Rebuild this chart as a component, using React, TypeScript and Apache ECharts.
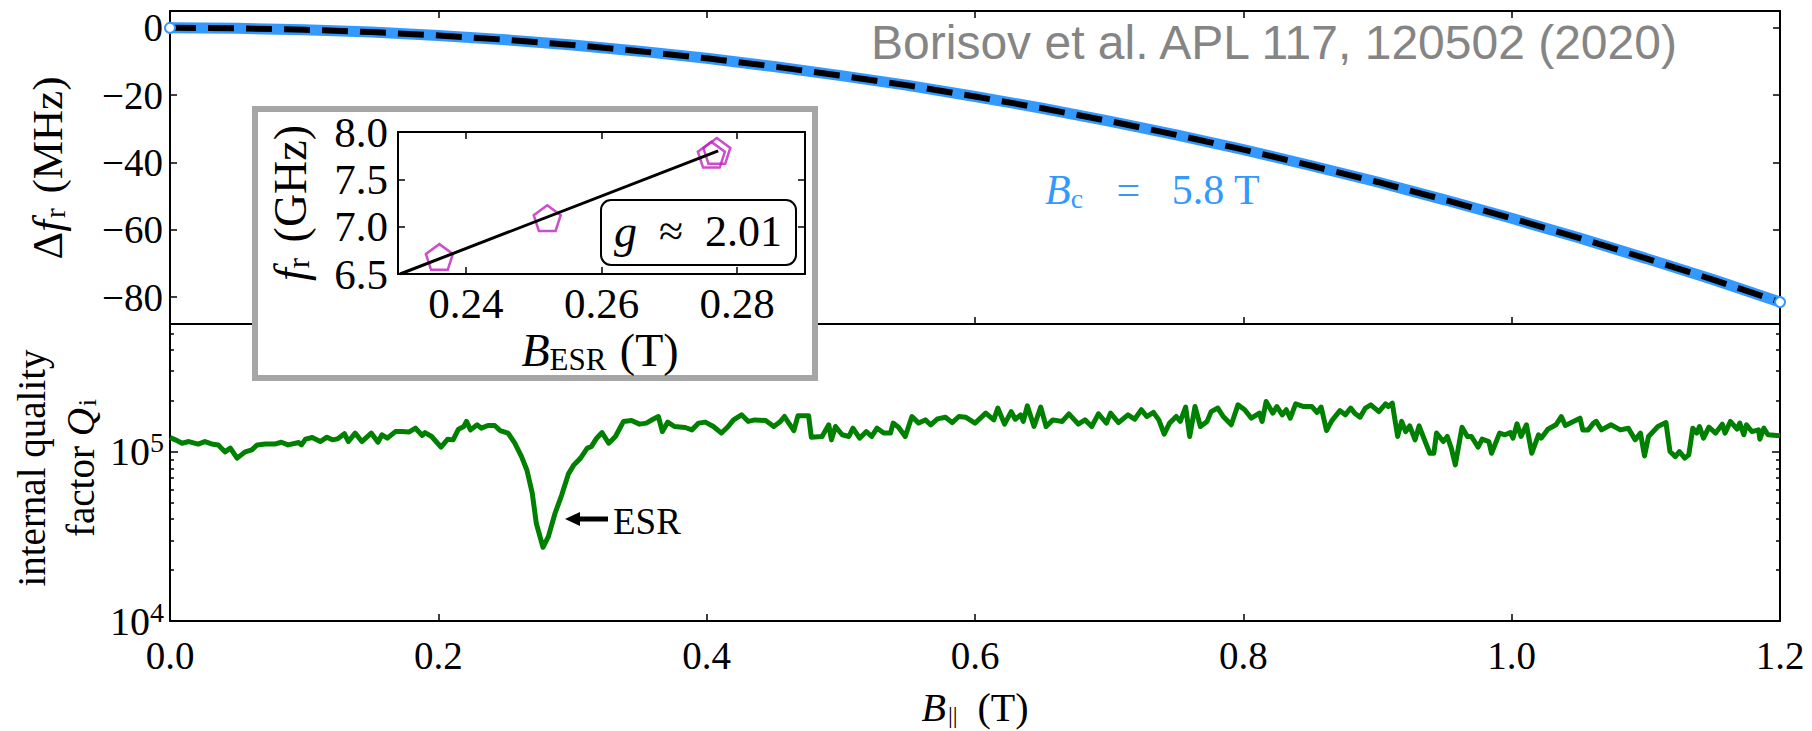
import React, { useEffect, useRef } from "react";
import * as echarts from "echarts";

// ---- Resonance shift vs in-plane field (top panel) ----
const fieldTop = [
  0, 0.05, 0.1, 0.15, 0.2, 0.25, 0.3, 0.35, 0.4, 0.45, 0.5, 0.55, 0.6,
  0.65, 0.7, 0.75, 0.8, 0.85, 0.9, 0.95, 1.0, 1.05, 1.1, 1.15, 1.2,
];
const deltaFrMeasured = [
  0, -0.14, -0.57, -1.27, -2.26, -3.54, -5.09, -6.93, -9.06, -11.5, -14.2,
  -17.1, -20.4, -23.9, -27.7, -31.8, -36.2, -40.9, -45.8, -51.1, -56.6,
  -62.4, -68.5, -74.8, -81.5,
];
const deltaFrFit = [
  0, -0.14, -0.57, -1.27, -2.26, -3.54, -5.09, -6.93, -9.06, -11.5, -14.2,
  -17.1, -20.4, -23.9, -27.7, -31.8, -36.2, -40.9, -45.8, -51.1, -56.6,
  -62.4, -68.5, -74.8, -81.5,
];
const topTicks = [0, -20, -40, -60, -80];

// ---- Internal quality factor vs field (bottom panel), stored as log10(Qi) ----
const qiField = [
  0.0, 0.004, 0.009, 0.014, 0.021, 0.026, 0.031, 0.036, 0.041, 0.045,
  0.05, 0.056, 0.061, 0.065, 0.071, 0.078, 0.083, 0.088, 0.096, 0.098,
  0.101, 0.106, 0.112, 0.117, 0.121, 0.125, 0.13, 0.133, 0.138, 0.143,
  0.15, 0.155, 0.158, 0.162, 0.168, 0.173, 0.178, 0.183, 0.188, 0.19,
  0.195, 0.202, 0.207, 0.211, 0.215, 0.219, 0.221, 0.224, 0.229, 0.232,
  0.237, 0.242, 0.246, 0.252, 0.257, 0.262, 0.266, 0.27, 0.273, 0.278,
  0.282, 0.287, 0.292, 0.297, 0.301, 0.306, 0.311, 0.314, 0.318, 0.322,
  0.327, 0.332, 0.338, 0.344, 0.35, 0.355, 0.36, 0.364, 0.367, 0.371,
  0.376, 0.384, 0.389, 0.394, 0.399, 0.405, 0.411, 0.416, 0.42, 0.426,
  0.431, 0.436, 0.444, 0.45, 0.455, 0.458, 0.465, 0.468, 0.476, 0.478,
  0.486, 0.491, 0.493, 0.496, 0.501, 0.506, 0.509, 0.514, 0.519, 0.523,
  0.527, 0.532, 0.537, 0.539, 0.543, 0.548, 0.553, 0.558, 0.563, 0.567,
  0.572, 0.578, 0.583, 0.588, 0.593, 0.6, 0.608, 0.614, 0.617, 0.622,
  0.627, 0.63, 0.634, 0.636, 0.639, 0.644, 0.649, 0.653, 0.658, 0.665,
  0.67, 0.677, 0.682, 0.687, 0.692, 0.698, 0.701, 0.707, 0.714, 0.719,
  0.724, 0.728, 0.733, 0.737, 0.741, 0.745, 0.75, 0.753, 0.757, 0.76,
  0.764, 0.768, 0.773, 0.776, 0.781, 0.785, 0.791, 0.796, 0.801, 0.806,
  0.812, 0.814, 0.817, 0.822, 0.825, 0.829, 0.832, 0.835, 0.839, 0.845,
  0.851, 0.855, 0.858, 0.862, 0.866, 0.872, 0.876, 0.88, 0.883, 0.887,
  0.891, 0.895, 0.901, 0.906, 0.908, 0.911, 0.915, 0.918, 0.921, 0.924,
  0.928, 0.931, 0.934, 0.939, 0.942, 0.944, 0.949, 0.952, 0.955, 0.958,
  0.963, 0.967, 0.97, 0.975, 0.978, 0.983, 0.985, 0.991, 0.995, 0.999,
  1.001, 1.004, 1.007, 1.011, 1.015, 1.02, 1.022, 1.027, 1.033, 1.037,
  1.04, 1.046, 1.051, 1.053, 1.057, 1.061, 1.063, 1.067, 1.074, 1.081,
  1.087, 1.092, 1.096, 1.099, 1.102, 1.109, 1.115, 1.118, 1.122, 1.125,
  1.129, 1.132, 1.135, 1.138, 1.14, 1.143, 1.147, 1.152, 1.157, 1.159,
  1.163, 1.168, 1.17, 1.173, 1.175, 1.179, 1.184, 1.185, 1.188, 1.191,
  1.2,
];
const qiLog10 = [
  5.085, 5.071, 5.051, 5.061, 5.046, 5.061, 5.047, 5.041, 5.0, 5.022,
  4.963, 5.0, 5.012, 5.041, 5.046, 5.046, 5.057, 5.041, 5.055, 5.041,
  5.075, 5.085, 5.061, 5.087, 5.071, 5.077, 5.107, 5.061, 5.111, 5.061,
  5.111, 5.057, 5.101, 5.081, 5.12, 5.12, 5.117, 5.14, 5.097, 5.114,
  5.091, 5.028, 5.075, 5.071, 5.134, 5.15, 5.18, 5.13, 5.16, 5.14,
  5.156, 5.156, 5.126, 5.111, 5.051, 4.972, 4.893, 4.756, 4.578, 4.436,
  4.499, 4.637, 4.746, 4.87, 4.923, 4.963, 5.022, 5.031, 5.081, 5.114,
  5.051, 5.091, 5.18, 5.185, 5.164, 5.17, 5.193, 5.209, 5.12, 5.176,
  5.15, 5.144, 5.13, 5.17, 5.176, 5.15, 5.111, 5.15, 5.189, 5.219,
  5.18, 5.189, 5.185, 5.15, 5.18, 5.209, 5.126, 5.213, 5.213, 5.087,
  5.091, 5.16, 5.071, 5.15, 5.101, 5.091, 5.14, 5.081, 5.12, 5.091,
  5.14, 5.111, 5.111, 5.17, 5.146, 5.091, 5.209, 5.17, 5.189, 5.16,
  5.195, 5.205, 5.173, 5.209, 5.205, 5.17, 5.229, 5.189, 5.259, 5.164,
  5.238, 5.193, 5.219, 5.18, 5.272, 5.15, 5.265, 5.15, 5.189, 5.18,
  5.225, 5.164, 5.189, 5.15, 5.225, 5.17, 5.229, 5.173, 5.219, 5.193,
  5.249, 5.209, 5.233, 5.189, 5.105, 5.17, 5.209, 5.18, 5.265, 5.091,
  5.268, 5.15, 5.18, 5.238, 5.259, 5.209, 5.16, 5.278, 5.249, 5.199,
  5.229, 5.18, 5.298, 5.229, 5.268, 5.219, 5.249, 5.199, 5.284, 5.268,
  5.268, 5.233, 5.265, 5.126, 5.185, 5.244, 5.219, 5.259, 5.229, 5.205,
  5.259, 5.278, 5.238, 5.284, 5.268, 5.288, 5.091, 5.18, 5.12, 5.154,
  5.071, 5.154, 5.091, 4.992, 4.992, 5.111, 5.061, 5.091, 5.022, 4.923,
  5.146, 5.091, 5.091, 5.028, 5.075, 5.061, 4.992, 5.111, 5.101, 5.114,
  5.081, 5.166, 5.091, 5.16, 4.992, 5.101, 5.081, 5.134, 5.16, 5.209,
  5.156, 5.18, 5.199, 5.13, 5.13, 5.17, 5.18, 5.13, 5.16, 5.13,
  5.14, 5.071, 5.111, 4.976, 5.091, 5.15, 5.173, 5.002, 4.972, 5.002,
  4.963, 4.982, 5.14, 5.111, 5.15, 5.081, 5.146, 5.111, 5.164, 5.111,
  5.18, 5.134, 5.17, 5.101, 5.16, 5.12, 5.13, 5.075, 5.14, 5.101,
  5.095,
];
const qiDecades = [4, 5];
const qiMinorValues = [2e4, 3e4, 4e4, 5e4, 6e4, 7e4, 8e4, 9e4, 2e5, 3e5, 4e5, 5e5];

// ---- Inset: ESR resonance frequency vs field ----
const esrField = [0.2361, 0.252, 0.2762, 0.277];
const esrFreq = [6.68, 7.09, 7.76, 7.8];
const esrFitField = [0.2303, 0.2772];
const esrFitFreq = [6.5, 7.8];
const insetXTicks = [0.24, 0.26, 0.28];

const SERIF = "Liberation Serif";
const SANS = "Liberation Sans";
const BLUE = "#3399ff";
const GREEN = "#008000";
const MAGENTA = "#c21fc2";
const PENTAGON =
  "path://M50,0 L97.55,34.55 L79.39,90.45 L20.61,90.45 L2.45,34.55 Z";

const zip = (xs: number[], ys: number[]) => xs.map((x, i) => [x, ys[i]]);

const axisLine = {
  show: true,
  onZero: false,
  lineStyle: { color: "#000", width: 2 },
};
const ticks = (length: number, customValues?: number[]) => ({
  show: true,
  inside: true,
  length,
  customValues,
  lineStyle: { color: "#000", width: 1.5 },
});
const noLabel = { show: false };
const noSplit = { show: false };

// Axis labels set in the serif face through a rich-text token.
const serifLabel = (
  fontSize: number,
  margin: number,
  fmt: (v: number) => string,
  customValues?: number[]
) => ({
  show: true,
  margin,
  customValues,
  formatter: (v: number) => `{t|${fmt(v)}}`,
  rich: { t: { fontFamily: SERIF, fontSize, color: "#000" } },
});

function buildOption(): any {
  const minorLog = qiMinorValues.map((v) => Math.log10(v));
  const measured = zip(fieldTop, deltaFrMeasured).map((p, i, arr) => ({
    value: p,
    symbol: i === 0 || i === arr.length - 1 ? "emptyCircle" : "none",
  }));

  return {
    animation: false,
    backgroundColor: "#fff",
    textStyle: { fontFamily: SERIF },
    grid: [
      { left: 170, top: 11, width: 1610, height: 313 },
      { left: 170, top: 324, width: 1610, height: 297 },
      { left: 398, top: 132, width: 407, height: 142 },
    ],
    xAxis: [
      {
        gridIndex: 0, type: "value", position: "bottom", min: 0, max: 1.2, interval: 0.2,
        axisLine, axisTick: ticks(7), axisLabel: noLabel, splitLine: noSplit,
      },
      {
        gridIndex: 0, type: "value", position: "top", min: 0, max: 1.2, interval: 0.2,
        axisLine, axisTick: ticks(7), axisLabel: noLabel, splitLine: noSplit,
      },
      {
        gridIndex: 1, type: "value", position: "bottom", min: 0, max: 1.2, interval: 0.2,
        axisLine, axisTick: ticks(7), splitLine: noSplit,
        axisLabel: serifLabel(39, 15, (v) => v.toFixed(1)),
      },
      {
        gridIndex: 1, type: "value", position: "top", min: 0, max: 1.2, interval: 0.2,
        axisLine, axisTick: { show: false }, axisLabel: noLabel, splitLine: noSplit,
      },
      {
        gridIndex: 2, type: "value", position: "bottom", min: 0.23, max: 0.29, z: 60,
        axisLine, axisTick: ticks(7, insetXTicks), splitLine: noSplit,
        axisLabel: serifLabel(43, 8, (v) => v.toFixed(2), insetXTicks),
      },
      {
        gridIndex: 2, type: "value", position: "top", min: 0.23, max: 0.29, z: 60,
        axisLine, axisTick: ticks(7, insetXTicks), axisLabel: noLabel, splitLine: noSplit,
      },
    ],
    yAxis: [
      {
        gridIndex: 0, type: "value", position: "left", min: -88, max: 5,
        axisLine, axisTick: ticks(7, topTicks), splitLine: noSplit,
        axisLabel: serifLabel(
          39, 7,
          (v) => (v < 0 ? "\u2212" + Math.abs(v) : String(v)),
          topTicks
        ),
      },
      {
        gridIndex: 0, type: "value", position: "right", min: -88, max: 5,
        axisLine, axisTick: ticks(7, topTicks), axisLabel: noLabel, splitLine: noSplit,
      },
      {
        gridIndex: 1, type: "value", position: "left", min: 4, max: 5.756,
        axisLine, axisTick: ticks(8, qiDecades), splitLine: noSplit,
        axisLabel: {
          show: true, customValues: qiDecades, margin: 6,
          formatter: (v: number) => `{b|10}{s|${Math.round(v)}}`,
          rich: {
            b: { fontFamily: SERIF, fontSize: 40, color: "#000" },
            s: { fontFamily: SERIF, fontSize: 28, color: "#000", padding: [0, 0, 18, 0] },
          },
        },
      },
      {
        gridIndex: 1, type: "value", position: "left", min: 4, max: 5.756,
        axisLine: { show: false, onZero: false }, axisTick: ticks(4, minorLog),
        axisLabel: noLabel, splitLine: noSplit,
      },
      {
        gridIndex: 1, type: "value", position: "right", min: 4, max: 5.756,
        axisLine, axisTick: ticks(8, qiDecades), axisLabel: noLabel, splitLine: noSplit,
      },
      {
        gridIndex: 1, type: "value", position: "right", min: 4, max: 5.756,
        axisLine: { show: false, onZero: false }, axisTick: ticks(4, minorLog),
        axisLabel: noLabel, splitLine: noSplit,
      },
      {
        gridIndex: 2, type: "value", position: "left", min: 6.5, max: 8.0, interval: 0.5, z: 60,
        axisLine, axisTick: ticks(7), splitLine: noSplit,
        axisLabel: serifLabel(43, 10, (v) => v.toFixed(1)),
      },
      {
        gridIndex: 2, type: "value", position: "right", min: 6.5, max: 8.0, interval: 0.5, z: 60,
        axisLine, axisTick: ticks(7), axisLabel: noLabel, splitLine: noSplit,
      },
    ],
    series: [
      {
        name: "measured", type: "line", xAxisIndex: 0, yAxisIndex: 0,
        data: measured, symbolSize: 10, showSymbol: true,
        itemStyle: { color: BLUE, borderWidth: 2 },
        lineStyle: { color: BLUE, width: 11 },
      },
      {
        name: "fit", type: "line", xAxisIndex: 0, yAxisIndex: 0,
        data: zip(fieldTop, deltaFrFit), symbol: "none",
        lineStyle: { color: "#000", width: 6, type: [26, 12], cap: "butt" },
      },
      {
        name: "Qi", type: "line", xAxisIndex: 2, yAxisIndex: 2,
        data: zip(qiField, qiLog10), symbol: "none",
        lineStyle: { color: GREEN, width: 5, join: "round" },
      },
      {
        name: "ESR", type: "scatter", xAxisIndex: 4, yAxisIndex: 6, z: 60,
        data: zip(esrField, esrFreq), symbol: PENTAGON, symbolSize: 27,
        symbolKeepAspect: true,
        itemStyle: { color: "rgba(0,0,0,0)", borderColor: MAGENTA, borderWidth: 2.5 },
      },
      {
        name: "ESR fit", type: "line", xAxisIndex: 4, yAxisIndex: 6, z: 61,
        data: zip(esrFitField, esrFitFreq), symbol: "none",
        lineStyle: { color: "#000", width: 3 },
      },
    ],
    graphic: {
      elements: [
        // inset frame
        {
          type: "rect", z: 50,
          shape: { x: 255, y: 109, width: 560, height: 269 },
          style: { fill: "#fff", stroke: "#a6a6a6", lineWidth: 6 },
        },
        // g-factor box
        {
          type: "rect", z: 70,
          shape: { x: 601, y: 200, width: 195, height: 65, r: 10 },
          style: { fill: "#fff", stroke: "#000", lineWidth: 2 },
        },
        {
          type: "text", z: 71, x: 698, y: 231,
          style: {
            text: "{i|g}{n|  \u2248  2.01}",
            align: "center", verticalAlign: "middle",
            rich: {
              i: { fontFamily: SERIF, fontStyle: "italic", fontSize: 46, fill: "#000" },
              n: { fontFamily: SERIF, fontSize: 44, fill: "#000" },
            },
          },
        },
        // inset axis titles
        {
          type: "text", z: 71, x: 600, y: 350,
          style: {
            text: "{i|B}{s|ESR}{n| (T)}",
            align: "center", verticalAlign: "middle",
            rich: {
              i: { fontFamily: SERIF, fontStyle: "italic", fontSize: 46, fill: "#000", lineHeight: 48 },
              s: { fontFamily: SERIF, fontSize: 31, fill: "#000", padding: [18, 2, 0, 0], lineHeight: 48 },
              n: { fontFamily: SERIF, fontSize: 46, fill: "#000", lineHeight: 48 },
            },
          },
        },
        {
          type: "text", z: 71, x: 290, y: 203, rotation: Math.PI / 2,
          style: {
            text: "{i|f}{s|r}{n| (GHz)}",
            align: "center", verticalAlign: "middle",
            rich: {
              i: { fontFamily: SERIF, fontStyle: "italic", fontSize: 46, fill: "#000", lineHeight: 48 },
              s: { fontFamily: SERIF, fontSize: 31, fill: "#000", padding: [16, 4, 0, 0], lineHeight: 48 },
              n: { fontFamily: SERIF, fontSize: 46, fill: "#000", lineHeight: 48 },
            },
          },
        },
        // citation
        {
          type: "text", z: 20, x: 1274, y: 42,
          style: {
            text: "Borisov et al. APL 117, 120502 (2020)",
            fontFamily: SANS, fontSize: 48, fill: "#858585",
            align: "center", verticalAlign: "middle",
          },
        },
        // critical field label
        {
          type: "text", z: 20, x: 1045, y: 190,
          style: {
            text: "{i|B}{s|c}{n|   =   5.8 T}",
            align: "left", verticalAlign: "middle",
            rich: {
              i: { fontFamily: SERIF, fontStyle: "italic", fontSize: 42, fill: BLUE, lineHeight: 44 },
              s: { fontFamily: SERIF, fontSize: 28, fill: BLUE, padding: [16, 2, 0, 0], lineHeight: 44 },
              n: { fontFamily: SERIF, fontSize: 42, fill: BLUE, lineHeight: 44 },
            },
          },
        },
        // ESR arrow
        {
          type: "polygon", z: 20,
          shape: { points: [[565, 519], [580, 512], [580, 526]] },
          style: { fill: "#000" },
        },
        {
          type: "rect", z: 20,
          shape: { x: 578, y: 516.5, width: 30, height: 5 },
          style: { fill: "#000" },
        },
        {
          type: "text", z: 20, x: 613, y: 521,
          style: {
            text: "{t|ESR}",
            align: "left", verticalAlign: "middle",
            rich: { t: { fontFamily: SERIF, fontSize: 37, fill: "#000" } },
          },
        },
        // axis titles
        {
          type: "text", z: 20, x: 47, y: 168, rotation: Math.PI / 2,
          style: {
            text: "{n|\u0394}{i|f}{s|r}{n| (MHz)}",
            align: "center", verticalAlign: "middle",
            rich: {
              n: { fontFamily: SERIF, fontSize: 43, fill: "#000", lineHeight: 44 },
              i: { fontFamily: SERIF, fontStyle: "italic", fontSize: 43, fill: "#000", lineHeight: 44 },
              s: { fontFamily: SERIF, fontSize: 29, fill: "#000", padding: [16, 4, 0, 2], lineHeight: 44 },
            },
          },
        },
        {
          type: "text", z: 20, x: 56, y: 468, rotation: Math.PI / 2,
          style: {
            text: "{n|internal quality}\n{n|factor }{i|Q}{s|i}",
            align: "center", verticalAlign: "middle",
            rich: {
              n: { fontFamily: SERIF, fontSize: 39, fill: "#000", lineHeight: 49 },
              i: { fontFamily: SERIF, fontStyle: "italic", fontSize: 39, fill: "#000", lineHeight: 49 },
              s: { fontFamily: SERIF, fontSize: 26, fill: "#000", padding: [14, 0, 0, 2], lineHeight: 49 },
            },
          },
        },
        {
          type: "text", z: 20, x: 975, y: 707,
          style: {
            text: "{i|B}{s|||}{n|  (T)}",
            align: "center", verticalAlign: "middle",
            rich: {
              i: { fontFamily: SERIF, fontStyle: "italic", fontSize: 40, fill: "#000", lineHeight: 42 },
              s: { fontFamily: SERIF, fontSize: 24, fill: "#000", padding: [16, 0, 0, 2], lineHeight: 42 },
              n: { fontFamily: SERIF, fontSize: 40, fill: "#000", lineHeight: 42 },
            },
          },
        },
      ],
    },
  };
}

export default function App() {
  const ref = useRef<HTMLDivElement>(null);
  useEffect(() => {
    if (!ref.current) return;
    const chart = echarts.init(ref.current, null, { renderer: "svg" });
    chart.setOption(buildOption());
    return () => chart.dispose();
  }, []);
  return (
    <div
      ref={ref}
      style={{ position: "absolute", left: 0, top: 0, width: 1812, height: 731, background: "#fff" }}
    />
  );
}
